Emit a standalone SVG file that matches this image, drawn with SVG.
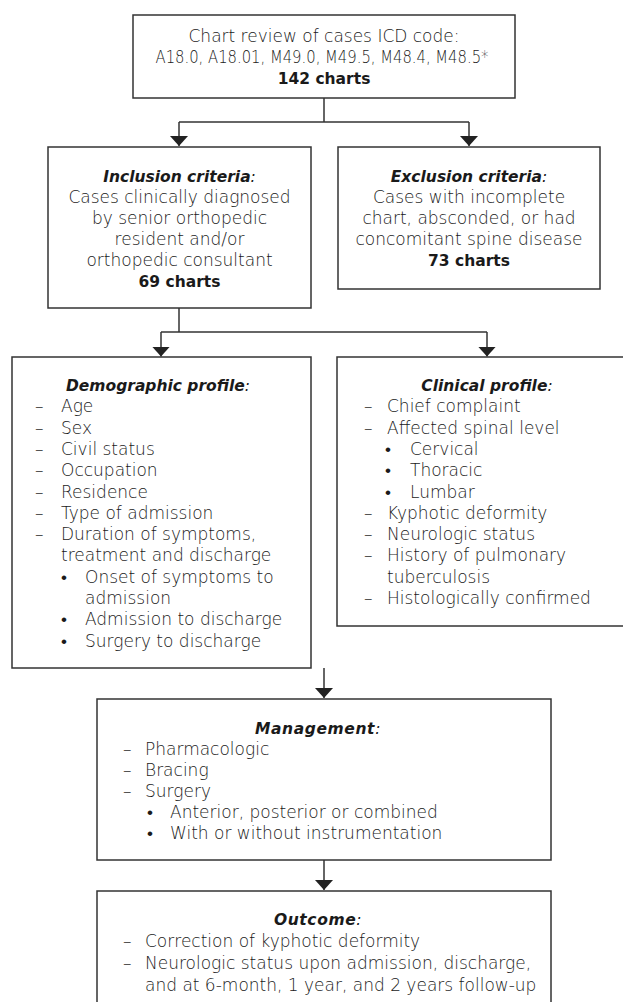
<svg xmlns="http://www.w3.org/2000/svg" width="623" height="1002" viewBox="0 0 623 1002">
<style>
.box{fill:#fff;stroke:#333;stroke-width:1.5}
.t{font-family:"DejaVu Sans",sans-serif;font-size:17px;font-weight:300;fill:#1a1a1a}
.c{text-anchor:middle}
.b{font-weight:bold;font-size:15.5px;fill:#1a1a1a}
.h{font-weight:bold;font-style:italic;font-size:15.5px;fill:#1a1a1a}
.n{font-weight:300}
.ln{stroke:#333;stroke-width:1.5;fill:none}
</style>
<defs>
<marker id="ah" markerUnits="userSpaceOnUse" markerWidth="11" markerHeight="19" refX="10" refY="9" orient="auto">
<path d="M0,0 L10,9 L0,18 z" fill="#222"/>
</marker>
</defs>
<rect width="623" height="1002" fill="#fff"/>

<g id="connectors">
<path class="ln" d="M324,98 V122"/>
<path class="ln" d="M179,122 H469"/>
<path class="ln" d="M179,122 V146" marker-end="url(#ah)"/>
<path class="ln" d="M469,122 V146" marker-end="url(#ah)"/>
<path class="ln" d="M179,308 V332"/>
<path class="ln" d="M161,332 H487"/>
<path class="ln" d="M161,332 V356.5" marker-end="url(#ah)"/>
<path class="ln" d="M487,332 V356.5" marker-end="url(#ah)"/>
<path class="ln" d="M324,668 V698" marker-end="url(#ah)"/>
<path class="ln" d="M324,860 V890" marker-end="url(#ah)"/>
</g>

<g id="chart-review">
<rect class="box" x="133" y="15" width="382" height="83"/>
<text class="t c" x="324" y="42">Chart review of cases ICD code:</text>
<text class="t c" x="322" y="63" textLength="333" lengthAdjust="spacingAndGlyphs">A18.0, A18.01, M49.0, M49.5, M48.4, M48.5*</text>
<text class="t c b" x="324" y="84">142 charts</text>
</g>

<g id="inclusion">
<rect class="box" x="48" y="147" width="263" height="161"/>
<text class="t c h" x="179.5" y="182">Inclusion criteria<tspan class="n">:</tspan></text>
<text class="t c" x="179.5" y="203">Cases clinically diagnosed</text>
<text class="t c" x="179.5" y="224">by senior orthopedic</text>
<text class="t c" x="179.5" y="245">resident and/or</text>
<text class="t c" x="179.5" y="266">orthopedic consultant</text>
<text class="t c b" x="179.5" y="287">69 charts</text>
</g>

<g id="exclusion">
<rect class="box" x="338" y="147" width="262" height="142"/>
<text class="t c h" x="469" y="182">Exclusion criteria<tspan class="n">:</tspan></text>
<text class="t c" x="469" y="203">Cases with incomplete</text>
<text class="t c" x="469" y="224">chart, absconded, or had</text>
<text class="t c" x="469" y="245">concomitant spine disease</text>
<text class="t c b" x="469" y="266">73 charts</text>
</g>

<g id="demographic">
<rect class="box" x="12" y="357" width="299" height="311"/>
<text class="t c h" x="158" y="391">Demographic profile<tspan class="n">:</tspan></text>
<text class="t" x="35" y="412.3">–</text><text class="t" x="61" y="412.3">Age</text>
<text class="t" x="35" y="433.6">–</text><text class="t" x="61" y="433.6">Sex</text>
<text class="t" x="35" y="454.9">–</text><text class="t" x="61" y="454.9">Civil status</text>
<text class="t" x="35" y="476.2">–</text><text class="t" x="61" y="476.2">Occupation</text>
<text class="t" x="35" y="497.5">–</text><text class="t" x="61" y="497.5">Residence</text>
<text class="t" x="35" y="518.8">–</text><text class="t" x="61" y="518.8">Type of admission</text>
<text class="t" x="35" y="540.1">–</text><text class="t" x="61" y="540.1">Duration of symptoms,</text>
<text class="t" x="61" y="561.4">treatment and discharge</text>
<text class="t" x="61" y="582.7">•</text><text class="t" x="85" y="582.7">Onset of symptoms to</text>
<text class="t" x="85" y="604">admission</text>
<text class="t" x="61" y="625.3">•</text><text class="t" x="85" y="625.3">Admission to discharge</text>
<text class="t" x="61" y="646.6">•</text><text class="t" x="85" y="646.6">Surgery to discharge</text>
</g>

<g id="clinical">
<rect class="box" x="337" y="357" width="300" height="269"/>
<text class="t c h" x="487" y="391">Clinical profile<tspan class="n">:</tspan></text>
<text class="t" x="364" y="412.3">–</text><text class="t" x="387" y="412.3">Chief complaint</text>
<text class="t" x="364" y="433.6">–</text><text class="t" x="387" y="433.6">Affected spinal level</text>
<text class="t" x="385" y="454.9">•</text><text class="t" x="410" y="454.9">Cervical</text>
<text class="t" x="385" y="476.2">•</text><text class="t" x="410" y="476.2">Thoracic</text>
<text class="t" x="385" y="497.5">•</text><text class="t" x="410" y="497.5">Lumbar</text>
<text class="t" x="364" y="518.8">–</text><text class="t" x="387" y="518.8">Kyphotic deformity</text>
<text class="t" x="364" y="540.1">–</text><text class="t" x="387" y="540.1">Neurologic status</text>
<text class="t" x="364" y="561.4">–</text><text class="t" x="387" y="561.4">History of pulmonary</text>
<text class="t" x="387" y="582.7">tuberculosis</text>
<text class="t" x="364" y="604">–</text><text class="t" x="387" y="604">Histologically confirmed</text>
</g>

<g id="management">
<rect class="box" x="97" y="699" width="454" height="161"/>
<text class="t c h" x="318" y="734" letter-spacing="0.6">Management<tspan class="n">:</tspan></text>
<text class="t" x="123" y="755">–</text><text class="t" x="145" y="755">Pharmacologic</text>
<text class="t" x="123" y="776">–</text><text class="t" x="145" y="776">Bracing</text>
<text class="t" x="123" y="797">–</text><text class="t" x="145" y="797">Surgery</text>
<text class="t" x="147" y="818">•</text><text class="t" x="170" y="818">Anterior, posterior or combined</text>
<text class="t" x="147" y="839">•</text><text class="t" x="170" y="839">With or without instrumentation</text>
</g>

<g id="outcome">
<rect class="box" x="97" y="891" width="454" height="140"/>
<text class="t c h" x="318" y="925" letter-spacing="0.6">Outcome<tspan class="n">:</tspan></text>
<text class="t" x="123" y="947">–</text><text class="t" x="145" y="947">Correction of kyphotic deformity</text>
<text class="t" x="123" y="969">–</text><text class="t" x="145" y="969">Neurologic status upon admission, discharge,</text>
<text class="t" x="145" y="991">and at 6-month, 1 year, and 2 years follow-up</text>
</g>
</svg>
